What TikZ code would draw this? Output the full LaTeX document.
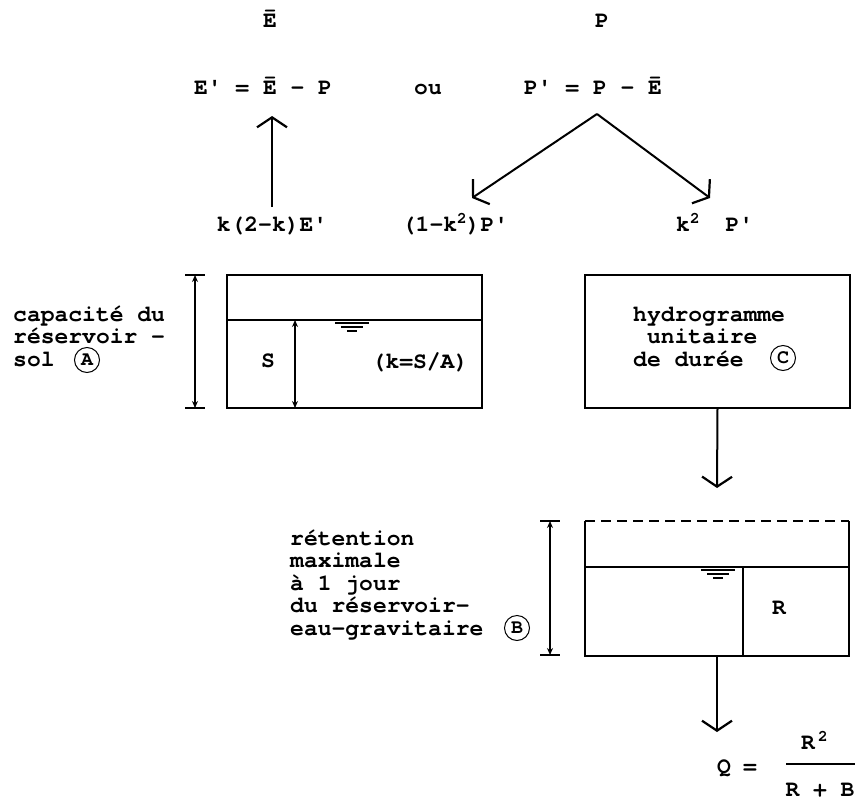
\documentclass[tikz,border=0pt]{standalone}
\usepackage{fontspec}
\newfontfamily\tw{texgyrecursor-bold.otf}
\usetikzlibrary{arrows.meta}
\newcommand\pr{\textquotesingle}
\newcommand\sq[1]{\raisebox{8pt}{\fontsize{16}{16}\selectfont #1}}
\tikzset{
  txt/.style={font=\tw\fontsize{23}{22.5}\selectfont, inner sep=0pt},
  boxline/.style={line width=2.4pt},
  water/.style={line width=1.6pt},
  wsym/.style={line width=1.2pt},
  dim/.style={line width=1.2pt, {Stealth[length=7pt,width=6pt]}-{Stealth[length=7pt,width=6pt]}},
  tick/.style={line width=1.6pt},
  flow/.style={line width=2pt, -{Straight Barb[length=10pt,width=30pt,line width=2.2pt]}},
  lbl/.style={draw, circle, line width=1pt, minimum size=25pt, inner sep=0pt, font=\tw\fontsize{20}{20}\selectfont},
  boxnode/.style={draw, boxline, inner sep=0pt, outer sep=0pt, minimum height=133pt}
}
\begin{document}
\begin{tikzpicture}[x=1pt,y=-1pt]
\fill[white] (0,0) rectangle (859,800);
\useasboundingbox (0,0) rectangle (859,800);

% top rows
\node[txt, anchor=base] (ebar) at (270,28) {Ē};
\node[txt, anchor=base] (ptop) at (602,28) {P};
\node[txt, anchor=base] (eeq) at (263,94) {E\pr{} = Ē - P};
\node[txt, anchor=base] (ou) at (428,94) {ou};
\node[txt, anchor=base] (peq) at (593,94) {P\pr{} = P - Ē};

\node[txt, anchor=base] (kE) at (272,231) {k(2-k)E\pr};
\node[txt, anchor=base] (kP1) at (455,231) {(1-k\sq{2})P\pr};
\node[txt, anchor=base west] (kP2) at (676,231) {k\sq{2}\hspace{26pt}P\pr};

% arrows at top
\coordinate (upS) at (272,207);
\coordinate (upE) at (272,116);
\draw[flow] (upS) -- (upE);
\coordinate (apex) at (597,114);
\coordinate (tipL) at (472,198);
\coordinate (tipR) at (710,198);
\draw[flow] (apex) -- (tipL);
\draw[flow] (apex) -- (tipR);

% box A
\node[boxnode, minimum width=255pt] (boxA) at (354.5,341.5) {};
\draw[water] (227,320) -- (482,320);
\draw[wsym] (335,323) -- (369,323) (341,327) -- (363,327) (347,331) -- (357,331);
\draw[dim] (195,275) -- (195,408);
\draw[tick] (185,275) -- (205,275) (185,408) -- (205,408);
\draw[dim] (295,320) -- (295,408);
\node[txt, anchor=base] (S) at (268,367) {S};
\node[txt, anchor=base] (kSA) at (420,368) {(k=S/A)};
\node[txt, anchor=base west] (tA) at (13,321) {\begin{tabular}[t]{@{}l@{}}capacité du\\réservoir -\\sol\end{tabular}};
\node[lbl] (cA) at (87,360) {A};

% box C
\node[boxnode, minimum width=265pt] (boxC) at (717.5,341.5) {};
\node[txt, anchor=base west] (tC) at (633,321) {\begin{tabular}[t]{@{}l@{}}hydrogramme\\\phantom{x}unitaire\\de durée\end{tabular}};
\node[lbl] (cC) at (783,358) {C};
\coordinate (cArr) at (717,488);
\draw[flow] (boxC.south) -- (cArr);

% box B
\coordinate (bTL) at (585,521);
\coordinate (bTR) at (849,521);
\coordinate (bBL) at (585,656);
\coordinate (bBR) at (849,656);
\draw[boxline] (bTL) -- (bBL) -- (bBR) -- (bTR);
\draw[boxline, dash pattern=on 10pt off 6pt] (bTL) -- (bTR);
\draw[water] (585,567) -- (849,567);
\draw[water] (743,567) -- (743,656);
\draw[wsym] (701,570) -- (735,570) (707,574) -- (729,574) (713,578) -- (723,578);
\node[txt, anchor=base] (R) at (779,614) {R};
\draw[dim] (550,521) -- (550,655);
\draw[tick] (540,521) -- (560,521) (540,655) -- (560,655);
\node[txt, anchor=base west] (tB) at (290,545) {\begin{tabular}[t]{@{}l@{}}rétention\\maximale\\à 1 jour\\du réservoir-\\eau-gravitaire\end{tabular}};
\node[lbl] (cB) at (517,628) {B};
\coordinate (bOut) at (717,656);
\coordinate (bArr) at (717,732);
\draw[flow] (bOut) -- (bArr);

% formula
\node[txt, anchor=base] (Q) at (724,773) {Q};
\node[txt, anchor=base] (eq) at (750,773) {=};
\coordinate (fL) at (786,764);
\coordinate (fR) at (855,764);
\draw[line width=1.6pt] (fL) -- (fR);
\node[txt, anchor=base west] (num) at (801,749) {R\hspace{3pt}\sq{2}};
\node[txt, anchor=base] (den) at (820,796) {R + B};
\end{tikzpicture}
\end{document}
